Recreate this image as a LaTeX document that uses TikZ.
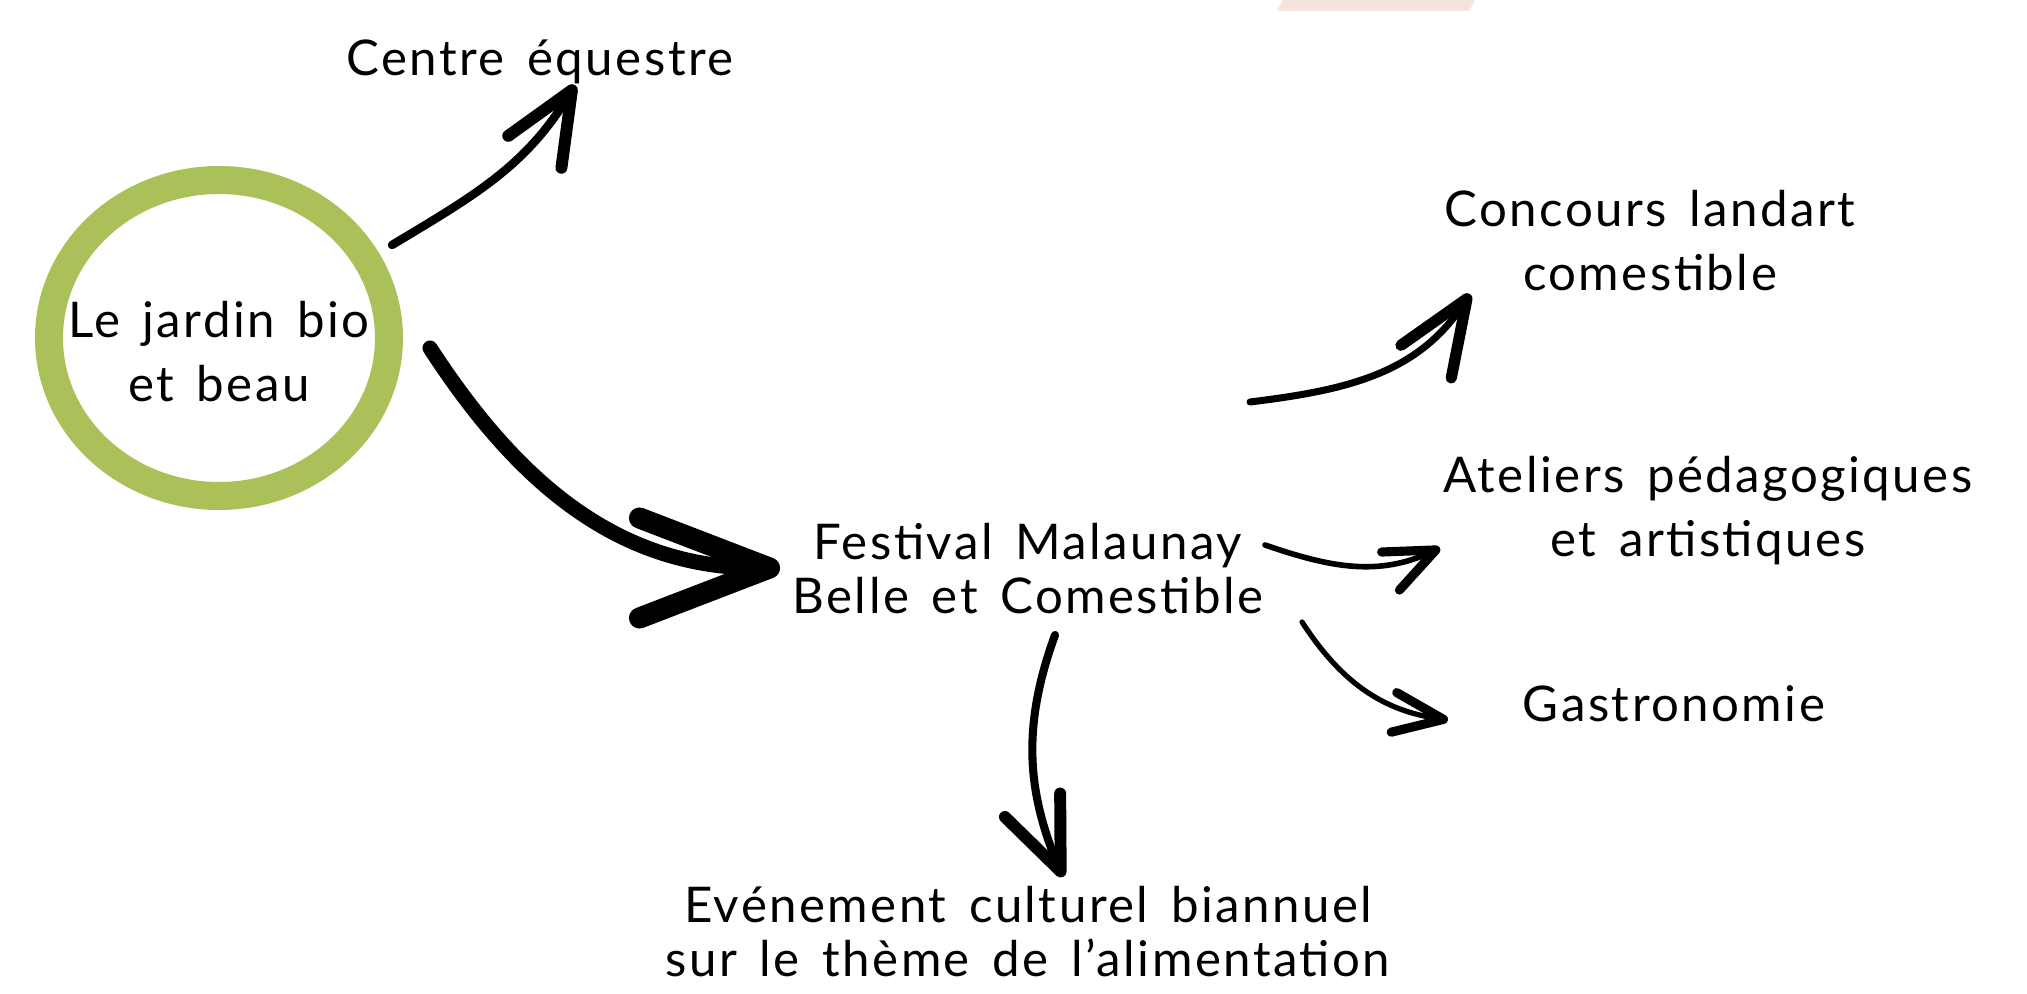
\documentclass[tikz,border=0pt]{standalone}
\usepackage{fontspec}
\setmainfont{Lato}[LetterSpace=5,WordSpace=1.5]
\usepackage{tikz}
\usetikzlibrary{arrows.meta,positioning,calc}
\definecolor{ringgreen}{RGB}{169,193,88}
\definecolor{bandpink}{RGB}{245,228,222}

\begin{document}
\begin{tikzpicture}[
  lbl/.style={align=center,inner sep=0pt,
              font=\fontsize{14pt}{18.2pt}\selectfont},
  lbltight/.style={lbl,font=\fontsize{14pt}{15.4pt}\selectfont},
  ring/.style={draw=ringgreen,line width=0.28cm},
  arr/.style n args={4}{draw=black,line width=#1,line cap=round,
              -{Straight Barb[length=#2,width=#3,line width=#4,round]}},
]
\useasboundingbox (0,0) rectangle (20.27,9.93);
% band at the top edge
\fill[bandpink] (12.83,9.93) -- (14.75,9.93) -- (14.69,9.82) -- (12.77,9.82) -- cycle;
% the garden, in its green ring
\node[lbl] (jardin) at (2.19,6.41) {Le jardin bio\\et beau};
\draw[ring] ([yshift=0.14cm]jardin.center) ellipse [x radius=1.70cm, y radius=1.58cm];
% what comes out of it
\node[lbl,anchor=base] (equestre) at (5.40,9.17) {Centre équestre};
\node[lbltight] (festival) at (10.28,4.24) {Festival Malaunay\\Belle et Comestible};
% what the festival offers
\node[lbl] (concours) at (16.50,7.52) {Concours landart\\comestible};
\node[lbl] (ateliers) at (17.08,4.82) {Ateliers pédagogiques\\et artistiques};
\node[lbl,anchor=base] (gastro) at (16.74,2.71) {Gastronomie};
\node[lbltight] (evenement) at (10.28,0.61) {Evénement culturel biannuel\\sur le thème de l’alimentation};
% free ends of the arrows
\coordinate (jardin-eq) at (3.92,7.48);
\coordinate (equestre-in) at (5.75,9.08);
\coordinate (jardin-fest) at (4.30,6.45);
\coordinate (festival-in) at (7.80,4.25);
\coordinate (fest-con) at (12.50,5.91);
\coordinate (concours-in) at (14.70,6.99);
\coordinate (fest-at) at (12.65,4.48);
\coordinate (ateliers-in) at (14.40,4.45);
\coordinate (fest-ga) at (13.02,3.71);
\coordinate (gastro-in) at (14.48,2.73);
\coordinate (fest-ev) at (10.55,3.58);
\coordinate (evenement-in) at (10.63,1.16);
% arrows
\draw[arr={2.4pt}{7.2mm}{6.2mm}{3.4pt}] (jardin-eq) to[out=31,in=239] (equestre-in);
\draw[arr={4.3pt}{13mm}{10mm}{6pt}] (jardin-fest) to[out=-57,in=180] (festival-in);
\draw[arr={2pt}{7.5mm}{6mm}{3.2pt}] (fest-con) to[out=7,in=237] (concours-in);
\draw[arr={1.6pt}{5mm}{4.2mm}{2.6pt}] (fest-at) to[out=-19,in=205] (ateliers-in);
\draw[arr={1.5pt}{5mm}{4mm}{2.6pt}] (fest-ga) to[out=-57,in=172] (gastro-in);
\draw[arr={2.3pt}{7.2mm}{6mm}{3.4pt}] (fest-ev) to[out=-110,in=113] (evenement-in);
\end{tikzpicture}
\end{document}
